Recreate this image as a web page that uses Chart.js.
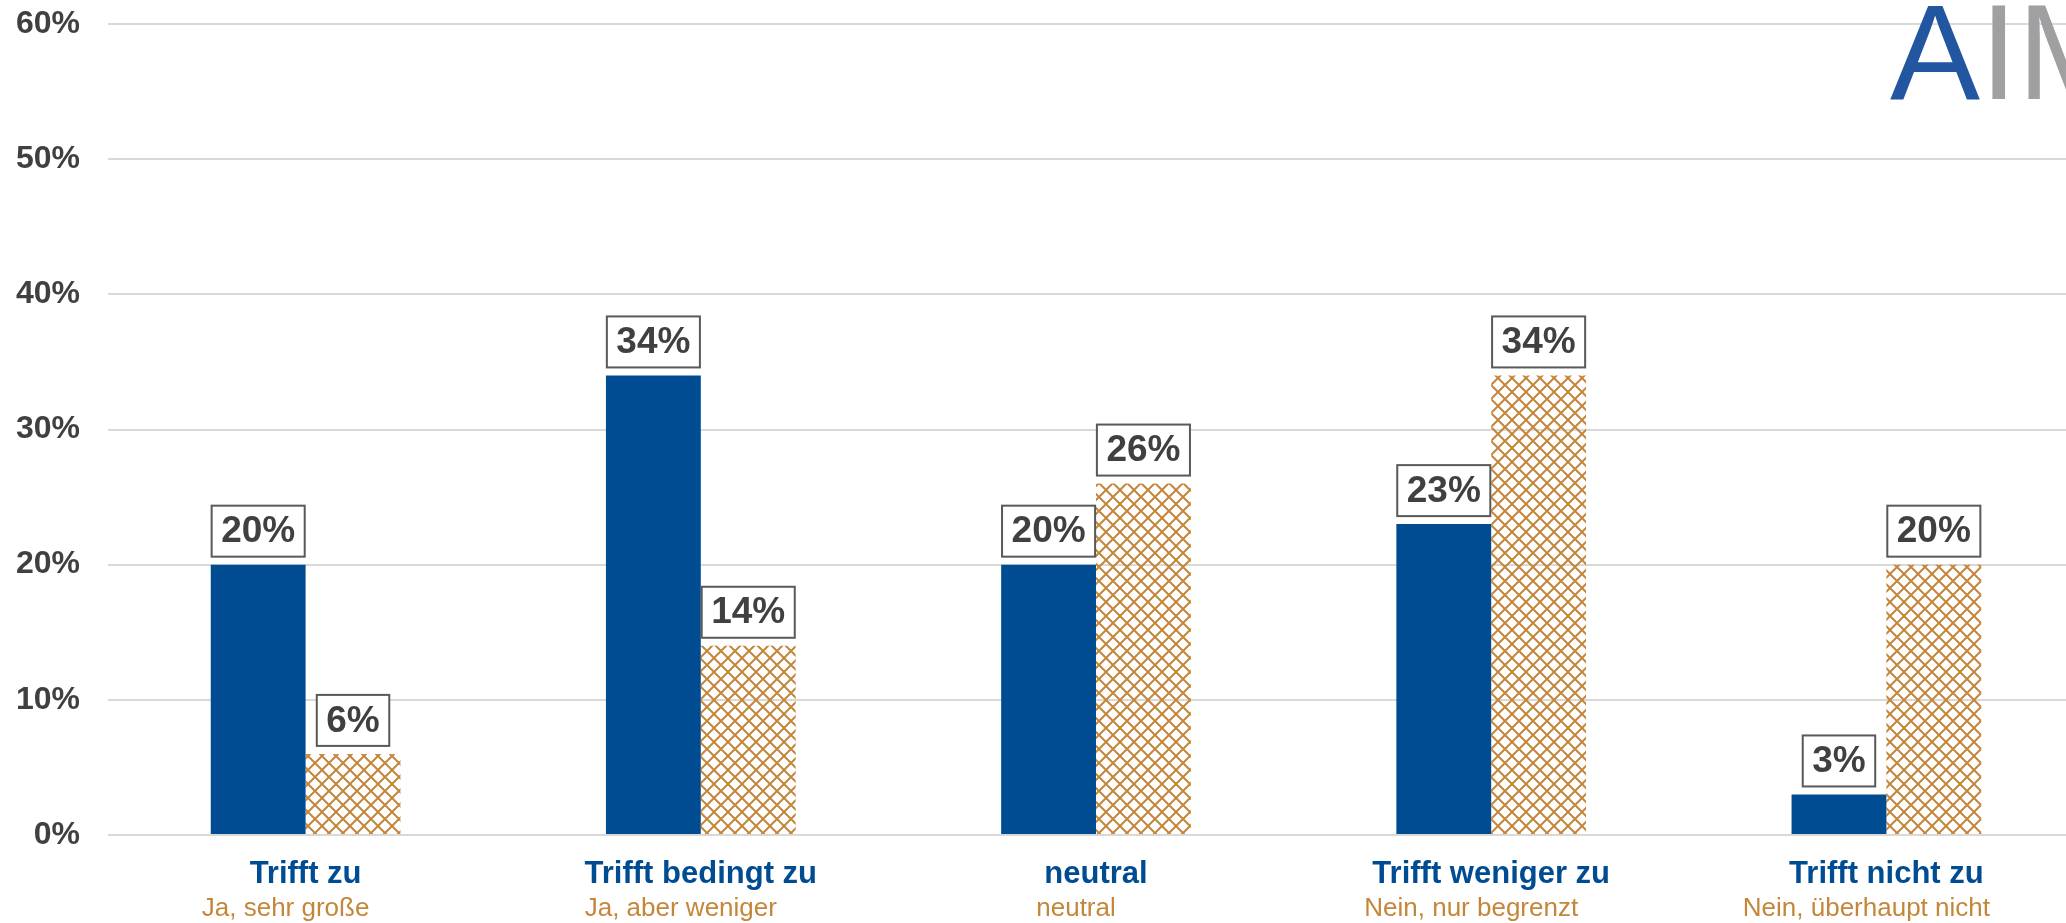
<!doctype html>
<html lang="de">

<head>
    <meta charset="utf-8">
    <title>Umfrage</title>
    <style>
        * {
            margin: 0;
            padding: 0;
        }

        body {
            background: white;
            overflow: hidden;
        }

        .chartBox {
            width: 2084px;
            height: 923px;
        }
    </style>
</head>

<body>
    <div class="chartBox">
        <canvas id="myChart"></canvas>
    </div>

    <script src="https://cdn.jsdelivr.net/npm/chart.js"></script>

    <script>
        const categories = ['Trifft zu', 'Trifft bedingt zu', 'neutral', 'Trifft weniger zu', 'Trifft nicht zu']
        const subLabels = ['Ja, sehr große', 'Ja, aber weniger', 'neutral', 'Nein, nur begrenzt', 'Nein, überhaupt nicht']
        const valuesA = [20, 34, 20, 23, 3]
        const valuesB = [6, 14, 26, 34, 20]
        const yTicks = [0, 10, 20, 30, 40, 50, 60]

        const FONT = "'Liberation Sans', Arial, sans-serif"

        // orange lattice pattern for the second series
        function makeHatch() {
            const s = 14
            const c = document.createElement('canvas')
            c.width = s
            c.height = s
            const ctx = c.getContext('2d')
            ctx.strokeStyle = '#C4873A'
            ctx.lineWidth = 2
            ctx.beginPath()
            ctx.moveTo(-1, -1); ctx.lineTo(s + 1, s + 1)
            ctx.moveTo(s + 1, -1); ctx.lineTo(-1, s + 1)
            ctx.stroke()
            return ctx.createPattern(c, 'repeat')
        }

        // boxed value labels above bars
        const boxLabels = {
            id: 'boxLabels',
            afterDatasetsDraw(chart) {
                const ctx = chart.ctx
                ctx.save()
                ctx.font = 'bold 37px ' + FONT
                ctx.textAlign = 'center'
                ctx.textBaseline = 'middle'
                chart.data.datasets.forEach((ds, i) => {
                    chart.getDatasetMeta(i).data.forEach((bar, j) => {
                        const txt = ds.data[j] + '%'
                        const w = ctx.measureText(txt).width + 19
                        const h = 51
                        const x = bar.x - w / 2
                        const y = bar.y - 8 - h
                        ctx.fillStyle = 'white'
                        ctx.fillRect(x, y, w, h)
                        ctx.strokeStyle = '#595959'
                        ctx.lineWidth = 2
                        ctx.strokeRect(x, y, w, h)
                        ctx.fillStyle = '#404040'
                        ctx.fillText(txt, bar.x, y + h / 2 + 1)
                    })
                })
                ctx.restore()
            }
        }

        // logo in the top right corner
        const logo = {
            id: 'logo',
            afterDraw(chart) {
                const ctx = chart.ctx
                ctx.save()
                ctx.font = '135px ' + FONT
                ctx.textBaseline = 'alphabetic'
                ctx.textAlign = 'left'
                ctx.fillStyle = '#2356A0'
                ctx.fillText('A', 1890, 99)
                const aw = ctx.measureText('A').width
                ctx.fillStyle = '#A0A0A2'
                ctx.fillText('IM', 1890 + aw, 99)
                ctx.restore()
            }
        }

        const data = {
            labels: categories,
            datasets: [
                {
                    label: 'A',
                    data: valuesA,
                    backgroundColor: '#004C93',
                    borderWidth: 0
                },
                {
                    label: 'B',
                    data: valuesB,
                    backgroundColor: makeHatch(),
                    borderWidth: 0
                }
            ]
        }

        const config = {
            type: 'bar',
            data: data,
            options: {
                responsive: true,
                maintainAspectRatio: false,
                animation: false,
                categoryPercentage: 0.48,
                barPercentage: 1,
                layout: {
                    padding: { top: 24, right: 0, bottom: 0, left: 0 }
                },
                plugins: {
                    legend: { display: false },
                    tooltip: { enabled: false }
                },
                scales: {
                    x: {
                        weight: 0,
                        offset: true,
                        grid: { display: false },
                        border: { display: false },
                        ticks: {
                            padding: 13,
                            color: '#004C93',
                            font: { family: FONT, size: 31, weight: 'bold' },
                            maxRotation: 0,
                            autoSkip: false
                        },
                        afterFit: (scale) => { scale.height = 59 }
                    },
                    x2: {
                        type: 'category',
                        position: 'bottom',
                        weight: 1,
                        offset: true,
                        labels: subLabels,
                        grid: { display: false },
                        border: { display: false },
                        ticks: {
                            padding: -9,
                            labelOffset: -20,
                            color: '#C4873A',
                            font: { family: FONT, size: 26 },
                            maxRotation: 0,
                            autoSkip: false
                        },
                        afterFit: (scale) => { scale.height = 29 }
                    },
                    y: {
                        min: yTicks[0],
                        max: yTicks[yTicks.length - 1],
                        afterBuildTicks: (scale) => {
                            scale.ticks = yTicks.map(v => ({ value: v }))
                        },
                        grid: {
                            color: '#D9D9D9',
                            lineWidth: 2,
                            drawTicks: true,
                            tickLength: 28,
                            tickColor: 'rgba(0,0,0,0)'
                        },
                        border: { display: false },
                        ticks: {
                            padding: 0,
                            color: '#404040',
                            font: { family: FONT, size: 32, weight: 'bold' },
                            callback: function (value) {
                                return value + '%'
                            }
                        },
                        afterFit: (scale) => { scale.width = 108 }
                    }
                }
            },
            plugins: [boxLabels, logo]
        }

        const myChart = new Chart(
            document.getElementById('myChart'),
            config
        )
    </script>
</body>

</html>
